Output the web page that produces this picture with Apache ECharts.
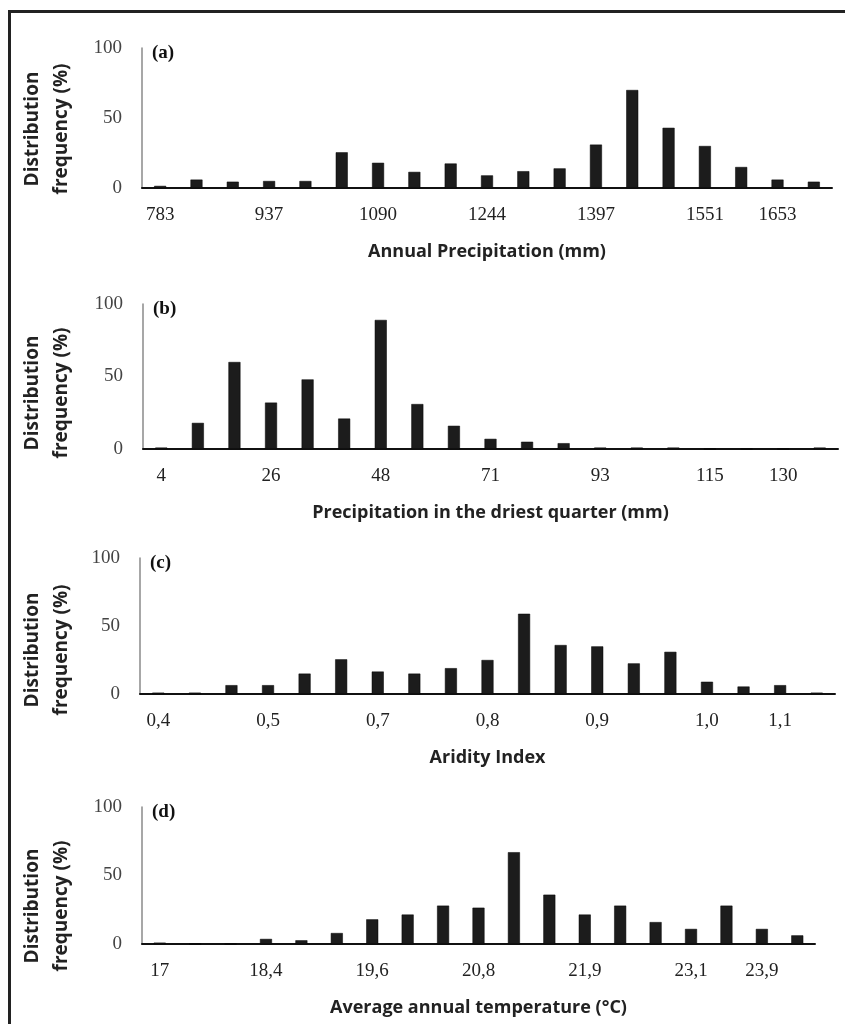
<!DOCTYPE html>
<html>
<head>
<meta charset="utf-8">
<script src="https://cdn.jsdelivr.net/npm/echarts@6/dist/echarts.min.js"></script>
<style>
  html, body { margin: 0; padding: 0; background: #fff; }
  #chart { width: 845px; height: 1024px; }
</style>
</head>
<body>
<div id="chart"></div>
<script>
// bin values (%), 19 bins per panel
const valuesA = [1.5, 6, 4.5, 5, 5, 25.5, 18, 11.5, 17.5, 9, 12, 14, 31, 70, 43, 30, 15, 6, 4.5];
const valuesB = [1, 18, 60, 32, 48, 21, 89, 31, 16, 7, 5, 4, 1, 1, 1, 0, 0, 0, 1];
const valuesC = [1, 1, 6.5, 6.5, 15, 25.5, 16.5, 15, 19, 25, 59, 36, 35, 22.5, 31, 9, 5.5, 6.5, 1];
const valuesD = [1, 0, 0, 3.7, 2.7, 8, 18, 21.5, 28, 26.5, 67, 36, 21.5, 28, 16, 11, 28, 11, 6.3];

// tick labels (blank = unlabeled bin)
const ticksA = ["783", "", "", "937", "", "", "1090", "", "", "1244", "", "", "1397", "", "", "1551", "", "1653", ""];
const ticksB = ["4", "", "", "26", "", "", "48", "", "", "71", "", "", "93", "", "", "115", "", "130", ""];
const ticksC = ["0,4", "", "", "0,5", "", "", "0,7", "", "", "0,8", "", "", "0,9", "", "", "1,0", "", "1,1", ""];
const ticksD = ["17", "", "", "18,4", "", "", "19,6", "", "", "20,8", "", "", "21,9", "", "", "23,1", "", "23,9", ""];

const xTitles = [
  "Annual Precipitation (mm)",
  "Precipitation in the driest quarter (mm)",
  "Aridity Index",
  "Average annual temperature (°C)"
];
const panelTags = ["(a)", "(b)", "(c)", "(d)"];
const yTitle = "Distribution\nfrequency (%)";

const panels = [
  { values: valuesA, ticks: ticksA, grid: { left: 142, top: 48, width: 690, height: 140 }, yTitleY: 129 },
  { values: valuesB, ticks: ticksB, grid: { left: 143, top: 304, width: 695, height: 145 }, yTitleY: 393 },
  { values: valuesC, ticks: ticksC, grid: { left: 140, top: 558, width: 695, height: 136 }, yTitleY: 650 },
  { values: valuesD, ticks: ticksD, grid: { left: 142, top: 807, width: 673, height: 137 }, yTitleY: 906 }
];

const serif = "'Liberation Serif', 'DejaVu Serif', serif";
const sans = "'Open Sans', 'Noto Sans', sans-serif";

const buildOption = () => {
  const grid = [], xAxis = [], yAxis = [], series = [], graphic = [];

  graphic.push({
    type: "rect",
    shape: { x: 9.5, y: 11.5, width: 900, height: 1100 },
    style: { fill: "none", stroke: "#222", lineWidth: 3 },
    silent: true
  });

  panels.forEach((p, i) => {
    grid.push(p.grid);
    xAxis.push({
      type: "category",
      gridIndex: i,
      data: p.values.map((v, k) => String(k)),
      axisTick: { show: false },
      axisLine: { lineStyle: { color: "#111", width: 2 } },
      axisLabel: {
        interval: 0,
        margin: 18,
        color: "#222",
        fontFamily: serif,
        fontSize: 19,
        formatter: (v, idx) => p.ticks[idx]
      },
      name: xTitles[i],
      nameLocation: "middle",
      nameGap: 55,
      nameTextStyle: { color: "#222", fontFamily: sans, fontSize: 18, fontWeight: "bold" }
    });
    yAxis.push({
      type: "value",
      gridIndex: i,
      min: 0,
      max: 100,
      interval: 50,
      splitLine: { show: false },
      axisTick: { show: false },
      axisLine: { show: true, lineStyle: { color: "#8a8a8a", width: 1.5 } },
      axisLabel: { margin: 20, color: "#444", fontFamily: serif, fontSize: 19 }
    });
    series.push({
      type: "bar",
      xAxisIndex: i,
      yAxisIndex: i,
      data: p.values,
      barWidth: 12,
      itemStyle: { color: "#1c1c1c", borderColor: "#000", borderWidth: 0.5 },
      silent: true
    });
    graphic.push({
      type: "text",
      x: p.grid.left + 10,
      y: p.grid.top - 4,
      style: { text: panelTags[i], fill: "#111", font: "bold 19px " + serif }
    });
    graphic.push({
      type: "text",
      x: 47,
      y: p.yTitleY,
      rotation: Math.PI / 2,
      style: {
        text: yTitle,
        fill: "#222",
        font: "bold 19px " + sans,
        align: "center",
        verticalAlign: "middle",
        lineHeight: 29
      }
    });
  });

  return { animation: false, grid, xAxis, yAxis, series, graphic };
};

const initChart = () => {
  const chart = echarts.init(document.getElementById("chart"));
  chart.setOption(buildOption());
};

window.addEventListener("load", () => {
  initChart();
});
</script>
</body>
</html>
